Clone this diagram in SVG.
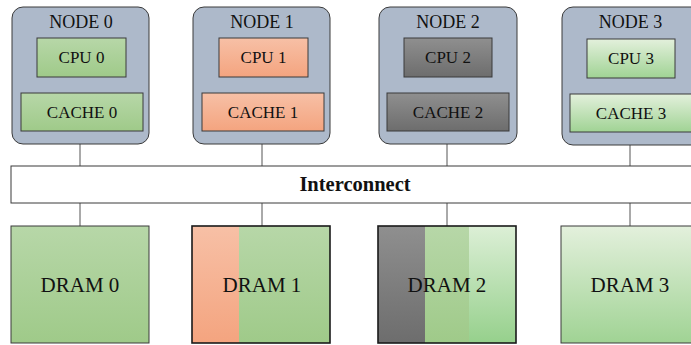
<svg xmlns="http://www.w3.org/2000/svg" width="691" height="345" viewBox="0 0 691 345">
<defs>
<linearGradient id="gGreen" x1="0" y1="0" x2="0" y2="1"><stop offset="0" stop-color="#b7d7a8"/><stop offset="1" stop-color="#9fca89"/></linearGradient>
<linearGradient id="gOrange" x1="0" y1="0" x2="0" y2="1"><stop offset="0" stop-color="#f7c0a6"/><stop offset="1" stop-color="#f4a47f"/></linearGradient>
<linearGradient id="gGray" x1="0" y1="0" x2="0" y2="1"><stop offset="0" stop-color="#8f8f8f"/><stop offset="1" stop-color="#6d6d6d"/></linearGradient>
<linearGradient id="gLight" x1="0" y1="0" x2="0" y2="1"><stop offset="0" stop-color="#e3f0dc"/><stop offset="1" stop-color="#a0d394"/></linearGradient>
<linearGradient id="gLight2" x1="0" y1="0" x2="0" y2="1"><stop offset="0" stop-color="#dcefd6"/><stop offset="1" stop-color="#96d08c"/></linearGradient>
</defs>
<style>
.node{fill:#adb9ca;stroke:#3a3a3a;stroke-width:1}
.box{stroke:#3a3a3a;stroke-width:1}
text{font-family:"Liberation Serif","DejaVu Serif",serif;fill:#111;text-anchor:middle}
.title{font-size:18px}
.lab{font-size:17px}
.dram{font-size:21px}
.conn{stroke:#555;stroke-width:1;fill:none}
</style>
<g id="connectors">
<line class="conn" x1="80" y1="144" x2="80" y2="166"/>
<line class="conn" x1="262" y1="144" x2="262" y2="166"/>
<line class="conn" x1="447" y1="144" x2="447" y2="166"/>
<line class="conn" x1="630" y1="144" x2="630" y2="166"/>
<line class="conn" x1="80" y1="203" x2="80" y2="226"/>
<line class="conn" x1="262" y1="203" x2="262" y2="226"/>
<line class="conn" x1="447" y1="203" x2="447" y2="226"/>
<line class="conn" x1="630" y1="203" x2="630" y2="226"/>
</g>
<g id="node0">
<rect class="node" x="12" y="7" width="137" height="137" rx="11"/>
<text class="title" x="81" y="28">NODE 0</text>
<rect class="box" x="37" y="38" width="89" height="39" fill="url(#gGreen)"/>
<text class="lab" x="81.5" y="63">CPU 0</text>
<rect class="box" x="21" y="93" width="122" height="38" fill="url(#gGreen)"/>
<text class="lab" x="82" y="118">CACHE 0</text>
</g>
<g id="node1">
<rect class="node" x="193" y="7" width="137" height="137" rx="11"/>
<text class="title" x="262" y="28">NODE 1</text>
<rect class="box" x="219" y="38" width="89" height="39" fill="url(#gOrange)"/>
<text class="lab" x="263.5" y="63">CPU 1</text>
<rect class="box" x="202" y="93" width="122" height="38" fill="url(#gOrange)"/>
<text class="lab" x="263" y="118">CACHE 1</text>
</g>
<g id="node2">
<rect class="node" x="379" y="7" width="138" height="137" rx="11"/>
<text class="title" x="448" y="28">NODE 2</text>
<rect class="box" x="404" y="38" width="88" height="39" fill="url(#gGray)"/>
<text class="lab" x="448" y="63">CPU 2</text>
<rect class="box" x="387" y="93" width="122" height="38" fill="url(#gGray)"/>
<text class="lab" x="448" y="118">CACHE 2</text>
</g>
<g id="node3">
<rect class="node" x="562" y="7" width="140" height="138" rx="11"/>
<text class="title" x="630.5" y="28">NODE 3</text>
<rect class="box" x="587" y="39" width="88" height="39" fill="url(#gLight)"/>
<text class="lab" x="631" y="64">CPU 3</text>
<rect class="box" x="570" y="94" width="122" height="38" fill="url(#gLight)"/>
<text class="lab" x="631" y="119">CACHE 3</text>
</g>
<g id="interconnect">
<rect x="11" y="166" width="690" height="37" fill="#fff" stroke="#3a3a3a" stroke-width="1"/>
<text x="355" y="191" font-size="20.5" font-weight="bold">Interconnect</text>
</g>
<g id="dram0">
<rect class="box" x="11" y="226" width="138" height="117" fill="url(#gGreen)"/>
<text class="dram" x="80" y="292">DRAM 0</text>
</g>
<g id="dram1">
<rect x="192" y="226" width="47" height="117" fill="url(#gOrange)"/>
<rect x="239" y="226" width="91" height="117" fill="url(#gGreen)"/>
<rect x="192" y="226" width="138" height="117" fill="none" stroke="#1a1a1a" stroke-width="1.6"/>
<text class="dram" x="262" y="292">DRAM 1</text>
</g>
<g id="dram2">
<rect x="378" y="226" width="47" height="117" fill="url(#gGray)"/>
<rect x="425" y="226" width="44" height="117" fill="url(#gGreen)"/>
<rect x="469" y="226" width="47" height="117" fill="url(#gLight2)"/>
<rect x="378" y="226" width="138" height="117" fill="none" stroke="#1a1a1a" stroke-width="1.6"/>
<text class="dram" x="447" y="292">DRAM 2</text>
</g>
<g id="dram3">
<rect class="box" x="561" y="226" width="140" height="117" fill="url(#gLight)"/>
<text class="dram" x="630" y="292">DRAM 3</text>
</g>
</svg>
